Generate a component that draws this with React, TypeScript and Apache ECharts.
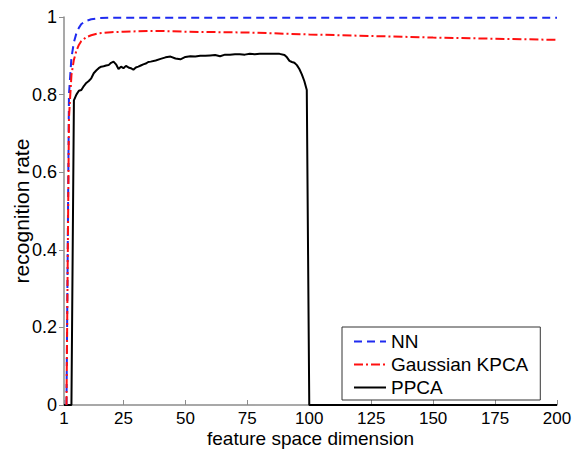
import React, { useEffect, useRef } from "react";
import * as echarts from "echarts";

const xTicks = [1, 25, 50, 75, 100, 125, 150, 175, 200];

const nnDims = [2, 3, 4, 5, 6, 7, 8, 10, 12, 15, 20, 30, 50, 100, 150, 200];
const nnRates = [0.0, 0.8, 0.895, 0.935, 0.958, 0.972, 0.982, 0.99, 0.994, 0.997, 0.998, 0.998, 0.998, 0.998, 0.998, 0.998];

const kpcaDims = [2, 3, 4, 5, 6, 7, 8, 10, 12, 15, 20, 25, 30, 35, 40, 50, 75, 100, 125, 150, 175, 200];
const kpcaRates = [0.0, 0.74, 0.85, 0.89, 0.913, 0.928, 0.938, 0.948, 0.953, 0.958, 0.961, 0.962, 0.963, 0.964, 0.964, 0.962, 0.96, 0.955, 0.951, 0.947, 0.944, 0.941];

const ppcaDims = [1, 2, 3, 4, 5, 6, 7, 8, 9, 10, 11, 12, 13, 14, 15, 16, 17, 18, 19, 20, 21, 22, 23, 24, 25, 26, 27, 28, 29, 30, 31, 32, 33, 34, 35, 36, 38, 40, 42, 44, 46, 48, 50, 52, 54, 56, 58, 60, 62, 64, 66, 68, 70, 72, 74, 76, 78, 80, 82, 84, 86, 88, 90, 91, 92, 93, 94, 95, 96, 97, 98, 99, 100, 150, 200];
const ppcaRates = [0, 0, 0, 0, 0.785, 0.8, 0.81, 0.812, 0.822, 0.83, 0.835, 0.842, 0.855, 0.862, 0.868, 0.872, 0.873, 0.875, 0.876, 0.882, 0.885, 0.878, 0.866, 0.872, 0.868, 0.874, 0.87, 0.868, 0.864, 0.87, 0.872, 0.875, 0.878, 0.88, 0.884, 0.885, 0.888, 0.892, 0.896, 0.898, 0.893, 0.891, 0.897, 0.899, 0.898, 0.9, 0.9, 0.901, 0.902, 0.899, 0.903, 0.903, 0.904, 0.904, 0.903, 0.905, 0.904, 0.905, 0.905, 0.905, 0.905, 0.905, 0.902, 0.896, 0.887, 0.884, 0.882, 0.876, 0.866, 0.852, 0.835, 0.812, 0, 0, 0];

const zip = (xs: number[], ys: number[]) => xs.map((x, i) => [x, ys[i]]);

const FONT = "Liberation Sans, Arial, Helvetica, sans-serif";

export default function App() {
  const ref = useRef<HTMLDivElement>(null);
  useEffect(() => {
    if (!ref.current) return;
    const chart = echarts.init(ref.current, null, { renderer: "svg" });
    chart.setOption({
      animation: false,
      backgroundColor: "#ffffff",
      textStyle: { fontFamily: FONT },
      grid: { left: 64, right: 22, top: 17, bottom: 46, containLabel: false, outerBoundsMode: "none" },
      xAxis: {
        type: "value",
        min: 1,
        max: 200,
        name: "feature space dimension",
        nameLocation: "middle",
        nameGap: 23,
        nameMoveOverlap: false,
        nameTextStyle: { color: "#000", fontSize: 19, lineHeight: 20, fontFamily: FONT },
        axisLine: { show: true, lineStyle: { color: "#8c8c8c", width: 1.5 } },
        axisTick: { show: true, inside: true, length: 5, customValues: xTicks, lineStyle: { color: "#8c8c8c" } },
        axisLabel: { customValues: xTicks, color: "#000", fontSize: 17, lineHeight: 17, margin: 5, fontFamily: FONT },
        splitLine: { show: false },
      },
      yAxis: {
        type: "value",
        min: 0,
        max: 1,
        interval: 0.2,
        name: "recognition rate",
        nameLocation: "middle",
        nameGap: 32,
        nameMoveOverlap: false,
        nameTextStyle: { color: "#000", fontSize: 21, fontFamily: FONT },
        axisLine: { show: true, lineStyle: { color: "#8c8c8c", width: 1.5 } },
        axisTick: { show: true, inside: false, length: 5, lineStyle: { color: "#8c8c8c" } },
        axisLabel: { color: "#000", fontSize: 18, margin: 7, fontFamily: FONT },
        splitLine: { show: false },
      },
      legend: {
        orient: "vertical",
        left: 342,
        top: 327,
        padding: [5, 12, 3, 11],
        itemWidth: 32,
        itemHeight: 14,
        itemGap: 4,
        itemTextGap: 13,
        borderColor: "#333",
        borderWidth: 1,
        backgroundColor: "#fff",
        itemStyle: { opacity: 0 },
        textStyle: { color: "#000", fontSize: 19, lineHeight: 19, fontFamily: FONT },
        data: ["NN", "Gaussian KPCA", "PPCA"],
      },
      series: [
        {
          name: "NN",
          type: "line",
          symbol: "none",
          data: zip(nnDims, nnRates),
          lineStyle: { color: "#1f2bf0", width: 2, type: [8, 5] },
          itemStyle: { color: "#1f2bf0" },
          z: 3,
        },
        {
          name: "Gaussian KPCA",
          type: "line",
          symbol: "none",
          data: zip(kpcaDims, kpcaRates),
          lineStyle: { color: "#ff1010", width: 2, type: [9, 3, 2, 3] },
          itemStyle: { color: "#ff1010" },
          z: 4,
        },
        {
          name: "PPCA",
          type: "line",
          symbol: "none",
          data: zip(ppcaDims, ppcaRates),
          lineStyle: { color: "#000", width: 2 },
          itemStyle: { color: "#000" },
          z: 2,
        },
      ],
    });
    return () => chart.dispose();
  }, []);
  return <div ref={ref} style={{ width: 579, height: 451, position: "absolute", left: 0, top: 0 }} />;
}
